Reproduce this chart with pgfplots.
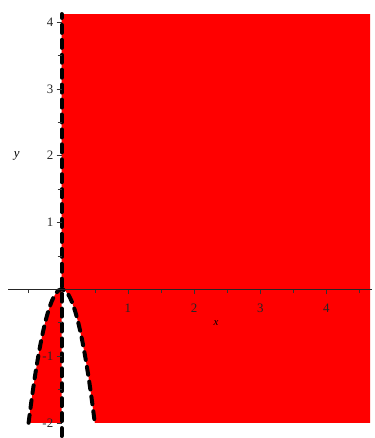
\documentclass[border=0pt]{standalone}
\usepackage{fontspec}
\setmainfont{Liberation Serif}
\usepackage{pgfplots}
\pgfplotsset{compat=1.18}
\begin{document}
\begin{tikzpicture}
\begin{axis}[
  x=66.5bp, y=67.1bp,
  axis lines=middle,
  axis on top,
  clip=false,
  xmin=-0.81, xmax=4.69, ymin=-2.198, ymax=4.33,
  xtick={1,2,3,4}, ytick={-2,-1,1,2,3,4},
  minor xtick={-0.5,0.5,1.5,2.5,3.5,4.5},
  minor ytick={-1.5,-0.5,0.5,1.5,2.5,3.5},
  tick align=outside,
  major tick length=5bp, minor tick length=4bp,
  tick style={black!80, line width=0.5pt},
  axis line style={black!85, line width=0.6pt, -},
  y axis line style={draw=none},
  ticklabel style={font=\fontsize{13}{15}\selectfont, text=black!85},
  xticklabel style={yshift=-6bp},
  /pgf/number format/assume math mode=true,
  xlabel={\textit{x}}, ylabel={\textit{y}},
  every axis x label/.style={at={(axis cs:2.33,-0.51)}, anchor=center, font=\fontsize{11}{13}\selectfont},
  every axis y label/.style={at={(axis cs:-0.68,2)}, anchor=center, font=\fontsize{13}{15}\selectfont},
]
% upper region
\addplot[fill=red, draw=none] coordinates {(0,0) (4.66,0) (4.66,4.12) (0,4.12)} \closedcycle;
% right lower region
\addplot[fill=red, draw=none] coordinates {(0,0) (0.05,-0.02) (0.1,-0.08) (0.15,-0.18) (0.2,-0.32) (0.25,-0.5) (0.3,-0.72) (0.35,-0.98) (0.4,-1.28) (0.45,-1.62) (0.5,-2.0) (4.66,-2.0) (4.66,0)} -- cycle;
% left lobe
\addplot[fill=red, draw=none] coordinates {(0,0) (-0.05,-0.02) (-0.1,-0.08) (-0.15,-0.18) (-0.2,-0.32) (-0.25,-0.5) (-0.3,-0.72) (-0.35,-0.98) (-0.4,-1.28) (-0.45,-1.62) (-0.5,-2.0) (0,-2.0)} -- cycle;
% dashed boundaries
\addplot[black, line width=4bp, line cap=round, dash pattern=on 8bp off 7bp] coordinates {(0,-2.198) (0,4.12)};
\addplot[black, line width=4bp, line cap=round, dash pattern=on 8bp off 7bp, smooth] coordinates {(-0.5,-2.0) (-0.45,-1.62) (-0.4,-1.28) (-0.35,-0.98) (-0.3,-0.72) (-0.25,-0.5) (-0.2,-0.32) (-0.15,-0.18) (-0.1,-0.08) (-0.05,-0.02) (0,0) (0.05,-0.02) (0.1,-0.08) (0.15,-0.18) (0.2,-0.32) (0.25,-0.5) (0.3,-0.72) (0.35,-0.98) (0.4,-1.28) (0.45,-1.62) (0.5,-2.0)};
\path (axis cs:-0.932,-2.198) rectangle (axis cs:4.72,4.33);
\end{axis}
\end{tikzpicture}
\end{document}
